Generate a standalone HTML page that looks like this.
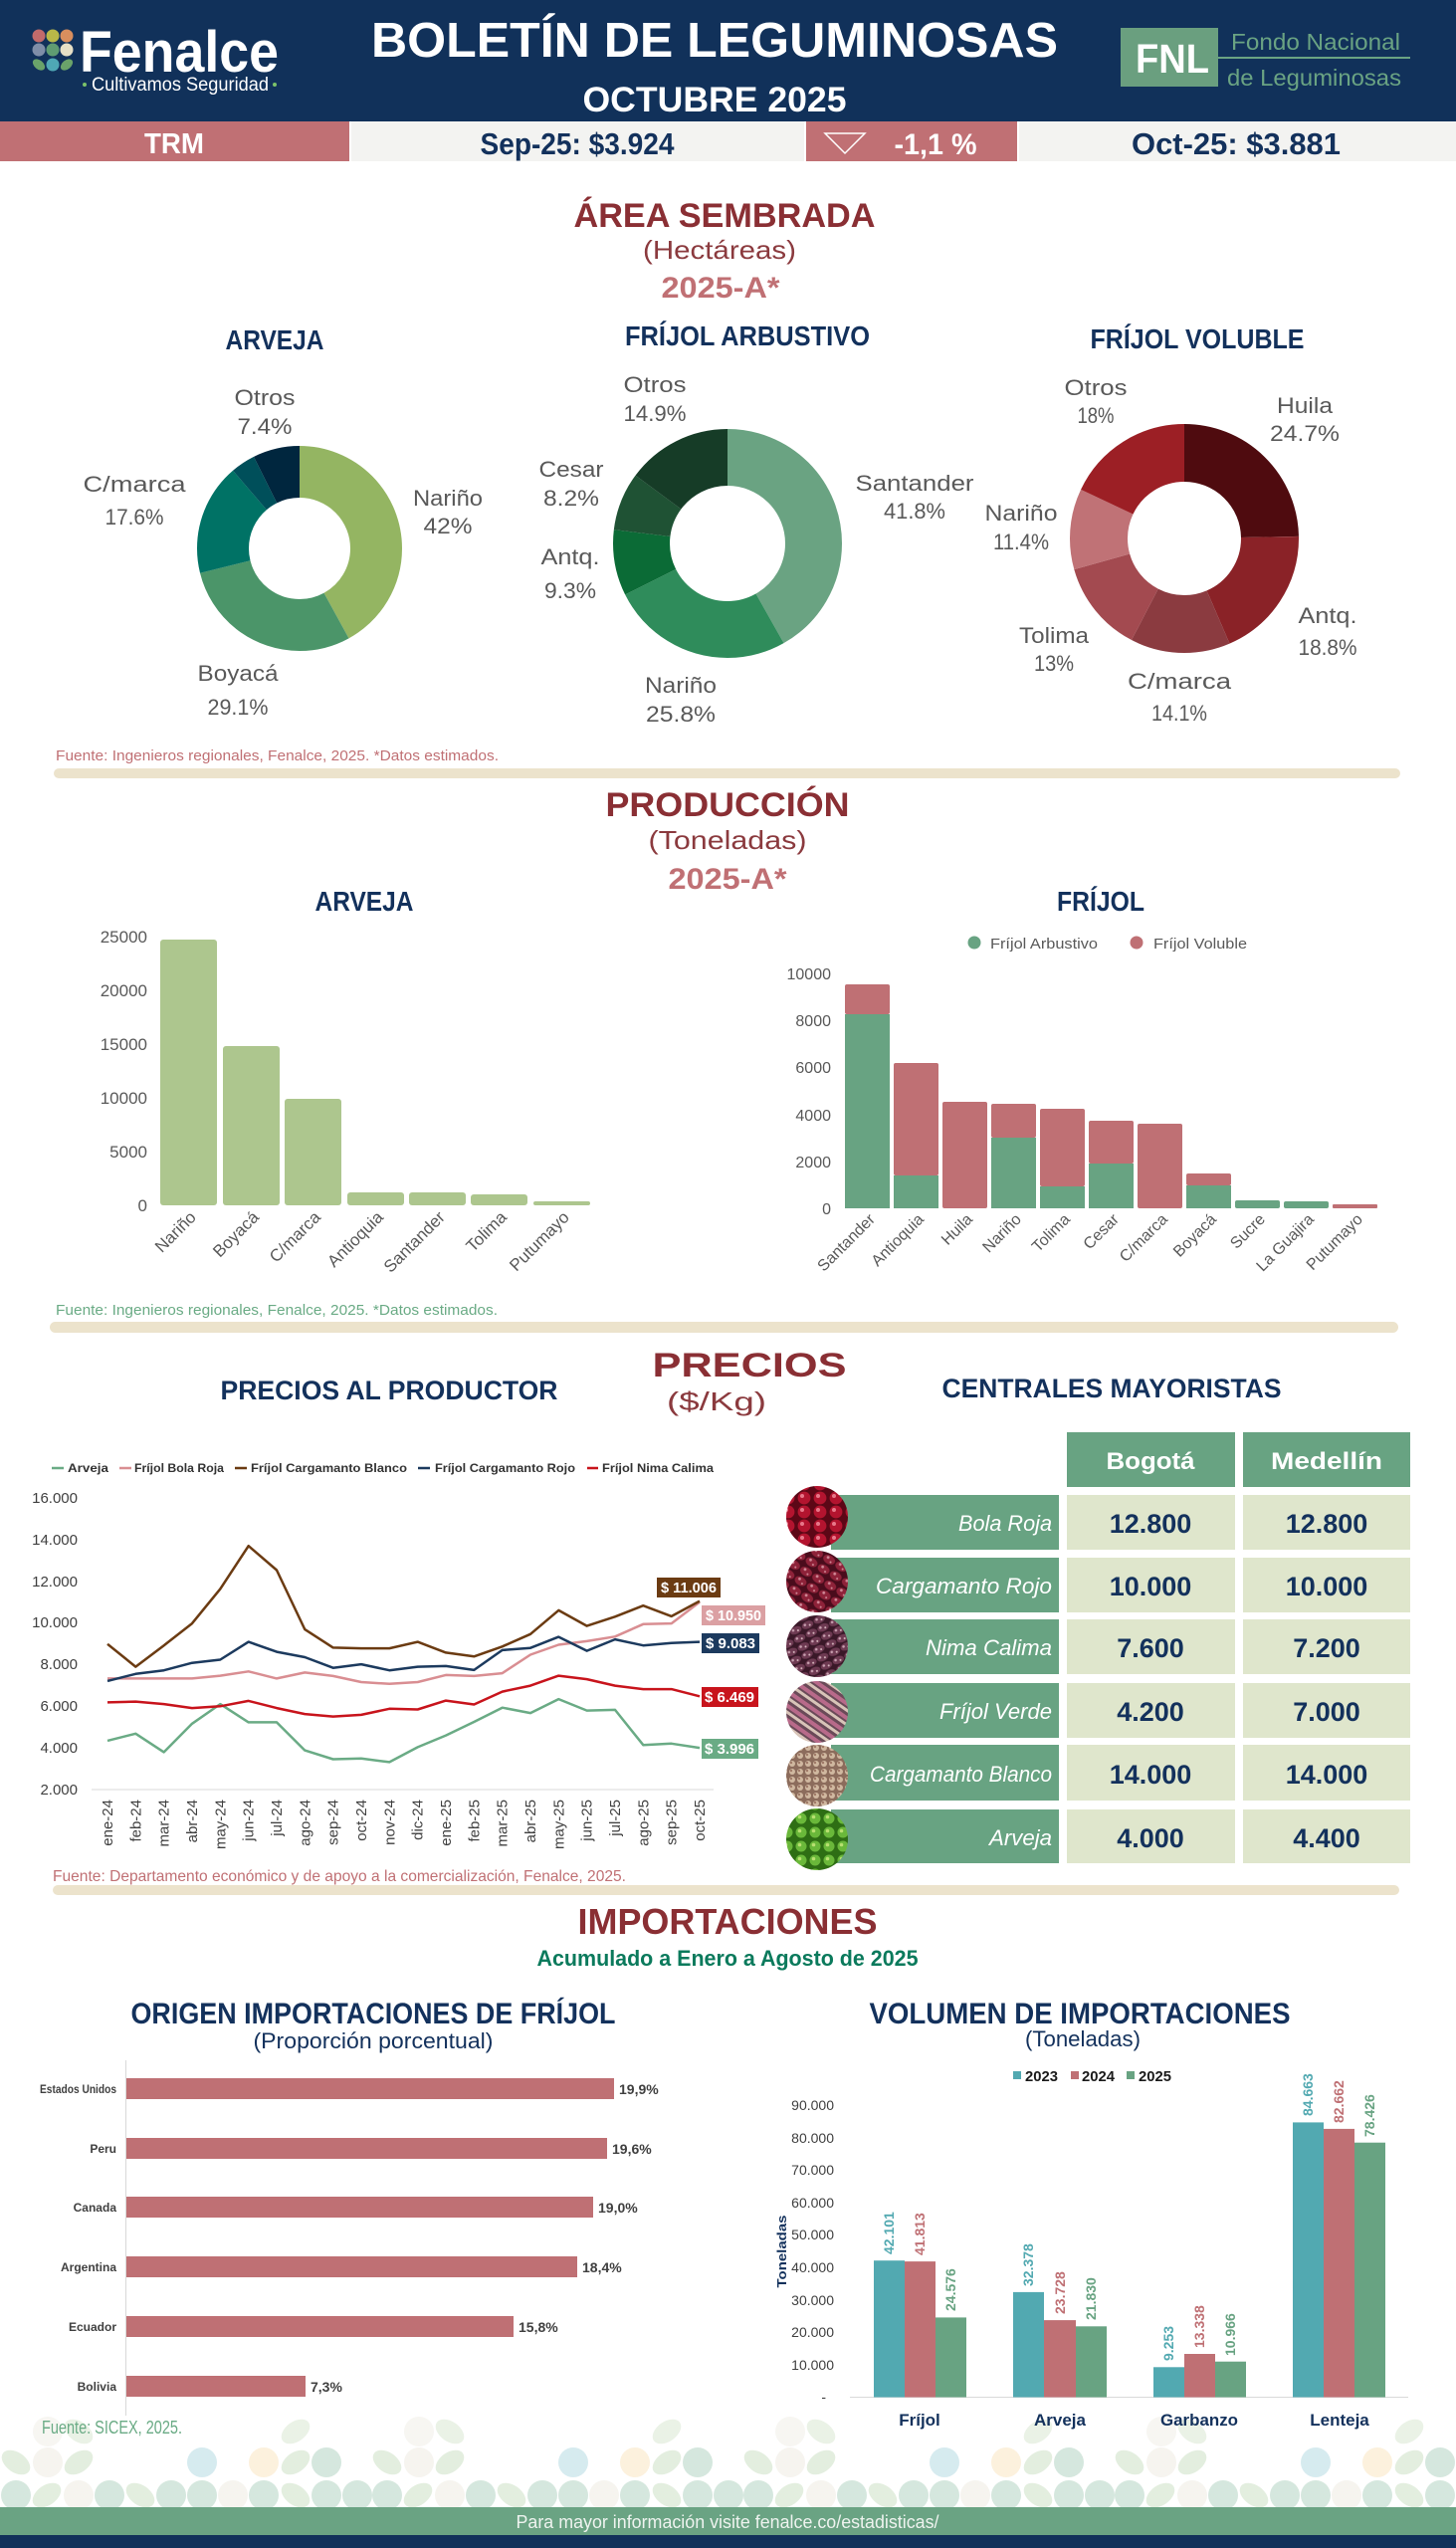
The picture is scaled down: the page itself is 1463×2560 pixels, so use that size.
<!DOCTYPE html>
<html><head><meta charset="utf-8"><style>
html,body{margin:0;padding:0;background:#fff;}
svg{display:block;}
text{font-family:"Liberation Sans",sans-serif;}
</style></head><body>
<svg width="1463" height="2560" viewBox="0 0 1463 2560" xmlns="http://www.w3.org/2000/svg">
<defs>
<pattern id="pBola" width="16" height="14" patternUnits="userSpaceOnUse"><rect width="16" height="14" fill="#5c0716"/><circle cx="8" cy="7" r="6.4" fill="#b3142f"/><circle cx="6" cy="5" r="2" fill="#e8788a"/></pattern>
<pattern id="pCRojo" width="14" height="11" patternUnits="userSpaceOnUse" patternTransform="rotate(30)"><rect width="14" height="11" fill="#4a0c1c"/><ellipse cx="7" cy="5.5" rx="6.3" ry="4.4" fill="#8e2239"/><circle cx="5" cy="4" r="1.4" fill="#d08a98"/><circle cx="9.5" cy="7" r="1" fill="#d08a98"/></pattern>
<pattern id="pNima" width="13" height="9" patternUnits="userSpaceOnUse" patternTransform="rotate(-25)"><rect width="13" height="9" fill="#3a1828"/><ellipse cx="6.5" cy="4.5" rx="6" ry="3.8" fill="#6e3a52"/><circle cx="4" cy="3.5" r="1.3" fill="#c8a0b0"/><circle cx="8.5" cy="5.5" r="1" fill="#d8b8c0"/></pattern>
<pattern id="pVerde" width="12" height="12" patternUnits="userSpaceOnUse" patternTransform="rotate(35)"><rect width="12" height="12" fill="#6a4a58"/><rect y="0" width="12" height="4" fill="#b86a8a"/><rect y="6" width="12" height="3" fill="#d8c4b8"/></pattern>
<pattern id="pBlanco" width="8" height="8" patternUnits="userSpaceOnUse"><rect width="8" height="8" fill="#8c6c5c"/><circle cx="4" cy="4" r="3" fill="#d0b8a0"/><circle cx="3" cy="3" r="1.2" fill="#a07a68"/></pattern>
<pattern id="pArveja" width="14" height="14" patternUnits="userSpaceOnUse"><rect width="14" height="14" fill="#2e6e14"/><circle cx="7" cy="7" r="5.5" fill="#6ab83a"/><circle cx="5.5" cy="5.5" r="1.8" fill="#b8e070"/></pattern>
</defs>

<!-- HEADER -->
<rect x="0" y="0" width="1463" height="122" fill="#11315a"/>
<g>
<circle cx="39" cy="36" r="6.5" fill="#c26b6b"/><circle cx="53" cy="36" r="6.5" fill="#b8b848"/><circle cx="67" cy="36" r="6.5" fill="#d98e5e"/>
<circle cx="39" cy="50" r="6.5" fill="#7f8ea8"/><circle cx="53" cy="50" r="6.5" fill="#5f9c72"/><circle cx="67" cy="50" r="6.5" fill="#e6dfc6"/>
<ellipse cx="39" cy="65" rx="7" ry="4.5" transform="rotate(40 39 65)" fill="#6aa36a"/><circle cx="53" cy="65" r="6.5" fill="#4fa8b5"/><ellipse cx="67" cy="65" rx="7" ry="4.5" transform="rotate(-40 67 65)" fill="#6aa36a"/>
</g>
<text x="80" y="72" font-size="58" font-weight="bold" fill="#fff" textLength="200" lengthAdjust="spacingAndGlyphs">Fenalce</text>
<circle cx="85" cy="85" r="2" fill="#7cc36a"/><circle cx="276" cy="85" r="2" fill="#7cc36a"/>
<text x="92" y="91" font-size="19" fill="#fff" textLength="178" lengthAdjust="spacingAndGlyphs">Cultivamos Seguridad</text>
<text x="718" y="57" font-size="49" font-weight="bold" fill="#fff" text-anchor="middle" textLength="690" lengthAdjust="spacingAndGlyphs">BOLETÍN DE LEGUMINOSAS</text>
<text x="718" y="112" font-size="35" font-weight="bold" fill="#fff" text-anchor="middle" textLength="265" lengthAdjust="spacingAndGlyphs">OCTUBRE  2025</text>
<rect x="1126" y="28" width="98" height="59" fill="#6a9f7f"/>
<text x="1178" y="73" font-size="41" font-weight="bold" fill="#fff" text-anchor="middle" textLength="74" lengthAdjust="spacingAndGlyphs">FNL</text>
<text x="1237" y="50" font-size="23" fill="#6aa383" textLength="170" lengthAdjust="spacingAndGlyphs">Fondo Nacional</text>
<rect x="1224" y="57" width="193" height="2" fill="#6aa383"/>
<text x="1233" y="86" font-size="23" fill="#6aa383" textLength="175" lengthAdjust="spacingAndGlyphs">de Leguminosas</text>

<!-- TRM ROW -->
<rect x="0" y="122" width="351" height="40" fill="#c07074"/>
<rect x="353" y="122" width="455" height="40" fill="#f3f3f1"/>
<rect x="810" y="122" width="212" height="40" fill="#c07074"/>
<rect x="1024" y="122" width="439" height="40" fill="#f3f3f1"/>
<text x="175" y="154" font-size="29" font-weight="bold" fill="#fff" text-anchor="middle" textLength="60" lengthAdjust="spacingAndGlyphs">TRM</text>
<text x="580" y="155" font-size="31" font-weight="bold" fill="#13315c" text-anchor="middle" textLength="195" lengthAdjust="spacingAndGlyphs">Sep-25: $3.924</text>
<path d="M829 134 L869 134 L849 154 Z" fill="none" stroke="#fff" stroke-width="1.5"/>
<text x="940" y="155" font-size="30" font-weight="bold" fill="#fff" text-anchor="middle" textLength="83" lengthAdjust="spacingAndGlyphs">-1,1 %</text>
<text x="1242" y="155" font-size="31" font-weight="bold" fill="#13315c" text-anchor="middle" textLength="210" lengthAdjust="spacingAndGlyphs">Oct-25: $3.881</text>

<!-- AREA SEMBRADA -->
<text x="728" y="228" font-size="34" font-weight="bold" fill="#8a2f34" text-anchor="middle" textLength="303" lengthAdjust="spacingAndGlyphs">ÁREA SEMBRADA</text>
<text x="723" y="260" font-size="26" fill="#8b3a3e" text-anchor="middle" textLength="154" lengthAdjust="spacingAndGlyphs">(Hectáreas)</text>
<text x="724" y="299" font-size="30" font-weight="bold" fill="#c07074" text-anchor="middle" textLength="119" lengthAdjust="spacingAndGlyphs">2025-A*</text>

<text x="276" y="351" font-size="28" font-weight="bold" fill="#13315c" text-anchor="middle" textLength="99" lengthAdjust="spacingAndGlyphs">ARVEJA</text>
<text x="751" y="347" font-size="28" font-weight="bold" fill="#13315c" text-anchor="middle" textLength="246" lengthAdjust="spacingAndGlyphs">FRÍJOL ARBUSTIVO</text>
<text x="1203" y="350" font-size="28" font-weight="bold" fill="#13315c" text-anchor="middle" textLength="215" lengthAdjust="spacingAndGlyphs">FRÍJOL VOLUBLE</text>

<!-- Arveja donut -->
<g transform="rotate(-90 301 551)" fill="none" stroke-width="52">
<circle cx="301" cy="551" r="77" stroke="#94b562" stroke-dasharray="203.2 483.81" stroke-dashoffset="0"/>
<circle cx="301" cy="551" r="77" stroke="#4b9569" stroke-dasharray="140.8 483.81" stroke-dashoffset="-203.2"/>
<circle cx="301" cy="551" r="77" stroke="#007265" stroke-dasharray="85.15 483.81" stroke-dashoffset="-344"/>
<circle cx="301" cy="551" r="77" stroke="#004f5a" stroke-dasharray="18.87 483.81" stroke-dashoffset="-429.14"/>
<circle cx="301" cy="551" r="77" stroke="#00263e" stroke-dasharray="35.8 483.81" stroke-dashoffset="-448.01"/>
</g>
<!-- Arbustivo donut -->
<g transform="rotate(-90 731 546)" fill="none" stroke-width="57">
<circle cx="731" cy="546" r="86.5" stroke="#6aa382" stroke-dasharray="227.18 543.5" stroke-dashoffset="0"/>
<circle cx="731" cy="546" r="86.5" stroke="#2f8c5b" stroke-dasharray="140.22 543.5" stroke-dashoffset="-227.18"/>
<circle cx="731" cy="546" r="86.5" stroke="#0b6b36" stroke-dasharray="50.55 543.5" stroke-dashoffset="-367.4"/>
<circle cx="731" cy="546" r="86.5" stroke="#1f5234" stroke-dasharray="44.57 543.5" stroke-dashoffset="-417.95"/>
<circle cx="731" cy="546" r="86.5" stroke="#163c27" stroke-dasharray="80.98 543.5" stroke-dashoffset="-462.52"/>
</g>
<!-- Voluble donut -->
<g transform="rotate(-90 1190 541)" fill="none" stroke-width="58">
<circle cx="1190" cy="541" r="86" stroke="#4f0b0f" stroke-dasharray="133.47 540.35" stroke-dashoffset="0"/>
<circle cx="1190" cy="541" r="86" stroke="#8a2227" stroke-dasharray="101.59 540.35" stroke-dashoffset="-133.47"/>
<circle cx="1190" cy="541" r="86" stroke="#8b3b40" stroke-dasharray="76.19 540.35" stroke-dashoffset="-235.06"/>
<circle cx="1190" cy="541" r="86" stroke="#a34a50" stroke-dasharray="70.25 540.35" stroke-dashoffset="-311.25"/>
<circle cx="1190" cy="541" r="86" stroke="#c07276" stroke-dasharray="61.6 540.35" stroke-dashoffset="-381.5"/>
<circle cx="1190" cy="541" r="86" stroke="#9c1f25" stroke-dasharray="97.26 540.35" stroke-dashoffset="-443.1"/>
</g>

<g font-size="22" fill="#595959" text-anchor="middle">
<text x="266" y="407" textLength="61" lengthAdjust="spacingAndGlyphs">Otros</text>
<text x="266" y="436" textLength="55" lengthAdjust="spacingAndGlyphs">7.4%</text>
<text x="135" y="494" textLength="103" lengthAdjust="spacingAndGlyphs">C/marca</text>
<text x="135" y="527" textLength="59" lengthAdjust="spacingAndGlyphs">17.6%</text>
<text x="450" y="508" textLength="70" lengthAdjust="spacingAndGlyphs">Nariño</text>
<text x="450" y="536" textLength="49" lengthAdjust="spacingAndGlyphs">42%</text>
<text x="239" y="684" textLength="81" lengthAdjust="spacingAndGlyphs">Boyacá</text>
<text x="239" y="718" textLength="61" lengthAdjust="spacingAndGlyphs">29.1%</text>

<text x="658" y="394" textLength="63" lengthAdjust="spacingAndGlyphs">Otros</text>
<text x="658" y="423" textLength="63" lengthAdjust="spacingAndGlyphs">14.9%</text>
<text x="574" y="479" textLength="65" lengthAdjust="spacingAndGlyphs">Cesar</text>
<text x="574" y="508" textLength="56" lengthAdjust="spacingAndGlyphs">8.2%</text>
<text x="573" y="567" textLength="59" lengthAdjust="spacingAndGlyphs">Antq.</text>
<text x="573" y="601" textLength="52" lengthAdjust="spacingAndGlyphs">9.3%</text>
<text x="919" y="493" textLength="119" lengthAdjust="spacingAndGlyphs">Santander</text>
<text x="919" y="521" textLength="62" lengthAdjust="spacingAndGlyphs">41.8%</text>
<text x="684" y="696" textLength="72" lengthAdjust="spacingAndGlyphs">Nariño</text>
<text x="684" y="725" textLength="70" lengthAdjust="spacingAndGlyphs">25.8%</text>

<text x="1101" y="397" textLength="63" lengthAdjust="spacingAndGlyphs">Otros</text>
<text x="1101" y="425" textLength="37" lengthAdjust="spacingAndGlyphs">18%</text>
<text x="1311" y="415" textLength="56" lengthAdjust="spacingAndGlyphs">Huila</text>
<text x="1311" y="443" textLength="70" lengthAdjust="spacingAndGlyphs">24.7%</text>
<text x="1026" y="523" textLength="73" lengthAdjust="spacingAndGlyphs">Nariño</text>
<text x="1026" y="552" textLength="56" lengthAdjust="spacingAndGlyphs">11.4%</text>
<text x="1334" y="626" textLength="59" lengthAdjust="spacingAndGlyphs">Antq.</text>
<text x="1334" y="658" textLength="59" lengthAdjust="spacingAndGlyphs">18.8%</text>
<text x="1059" y="646" textLength="70" lengthAdjust="spacingAndGlyphs">Tolima</text>
<text x="1059" y="674" textLength="40" lengthAdjust="spacingAndGlyphs">13%</text>
<text x="1185" y="692" textLength="104" lengthAdjust="spacingAndGlyphs">C/marca</text>
<text x="1185" y="724" textLength="56" lengthAdjust="spacingAndGlyphs">14.1%</text>
</g>

<text x="56" y="764" font-size="15" fill="#c07074" textLength="445" lengthAdjust="spacingAndGlyphs">Fuente: Ingenieros regionales, Fenalce, 2025. *Datos estimados.</text>
<rect x="54" y="772" width="1353" height="10" rx="5" fill="#ece3cc"/>

<!-- PRODUCCION -->
<text x="731" y="820" font-size="34" font-weight="bold" fill="#8a2f34" text-anchor="middle" textLength="245" lengthAdjust="spacingAndGlyphs">PRODUCCIÓN</text>
<text x="731" y="853" font-size="26" fill="#8b3a3e" text-anchor="middle" textLength="159" lengthAdjust="spacingAndGlyphs">(Toneladas)</text>
<text x="731" y="893" font-size="30" font-weight="bold" fill="#c07074" text-anchor="middle" textLength="119" lengthAdjust="spacingAndGlyphs">2025-A*</text>
<text x="366" y="915" font-size="28" font-weight="bold" fill="#13315c" text-anchor="middle" textLength="99" lengthAdjust="spacingAndGlyphs">ARVEJA</text>
<text x="1106" y="915" font-size="28" font-weight="bold" fill="#13315c" text-anchor="middle" textLength="88" lengthAdjust="spacingAndGlyphs">FRÍJOL</text>

<!-- Arveja bars -->
<g font-size="17" fill="#595959" text-anchor="end">
<text x="148" y="1217">0</text>
<text x="148" y="1163">5000</text>
<text x="148" y="1109">10000</text>
<text x="148" y="1055">15000</text>
<text x="148" y="1001">20000</text>
<text x="148" y="947">25000</text>
</g>
<g fill="#adc68e">
<rect x="161" y="944" width="57" height="267" rx="3"/>
<rect x="224" y="1051" width="57" height="160" rx="3"/>
<rect x="286" y="1104" width="57" height="107" rx="3"/>
<rect x="349" y="1198" width="57" height="13" rx="3"/>
<rect x="411" y="1198" width="57" height="13" rx="3"/>
<rect x="473" y="1200" width="57" height="11" rx="3"/>
<rect x="536" y="1207" width="57" height="4" rx="2"/>
</g>
<g font-size="17" fill="#595959" text-anchor="end">
<text transform="translate(198,1224) rotate(-45)">Nariño</text>
<text transform="translate(261,1224) rotate(-45)">Boyacá</text>
<text transform="translate(323,1224) rotate(-45)">C/marca</text>
<text transform="translate(386,1224) rotate(-45)">Antioquia</text>
<text transform="translate(448,1224) rotate(-45)">Santander</text>
<text transform="translate(510,1224) rotate(-45)">Tolima</text>
<text transform="translate(573,1224) rotate(-45)">Putumayo</text>
</g>

<!-- Frijol stacked bars -->
<circle cx="979" cy="947" r="6.5" fill="#68a382"/>
<text x="995" y="953" font-size="15" fill="#595959" textLength="108" lengthAdjust="spacingAndGlyphs">Fríjol Arbustivo</text>
<circle cx="1142" cy="947" r="6.5" fill="#bf7074"/>
<text x="1159" y="953" font-size="15" fill="#595959" textLength="94" lengthAdjust="spacingAndGlyphs">Fríjol Voluble</text>
<g font-size="16" fill="#595959" text-anchor="end">
<text x="835" y="1220">0</text>
<text x="835" y="1173">2000</text>
<text x="835" y="1126">4000</text>
<text x="835" y="1078">6000</text>
<text x="835" y="1031">8000</text>
<text x="835" y="984">10000</text>
</g>
<g fill="#bf7074">
<rect x="849" y="989" width="45" height="30" rx="2"/>
<rect x="898" y="1068" width="45" height="113" rx="2"/>
<rect x="947" y="1107" width="45" height="107" rx="2"/>
<rect x="996" y="1109" width="45" height="34" rx="2"/>
<rect x="1045" y="1114" width="45" height="78" rx="2"/>
<rect x="1094" y="1126" width="45" height="43" rx="2"/>
<rect x="1143" y="1129" width="45" height="85" rx="2"/>
<rect x="1192" y="1179" width="45" height="12" rx="2"/>
<rect x="1339" y="1210" width="45" height="4" rx="1"/>
</g>
<g fill="#68a382">
<rect x="849" y="1019" width="45" height="195"/>
<rect x="898" y="1181" width="45" height="33"/>
<rect x="996" y="1143" width="45" height="71"/>
<rect x="1045" y="1192" width="45" height="22"/>
<rect x="1094" y="1169" width="45" height="45"/>
<rect x="1192" y="1191" width="45" height="23"/>
<rect x="1241" y="1206" width="45" height="8" rx="2"/>
<rect x="1290" y="1207" width="45" height="7" rx="2"/>
</g>
<g font-size="16" fill="#595959" text-anchor="end">
<text transform="translate(880,1226) rotate(-45)">Santander</text>
<text transform="translate(929,1226) rotate(-45)">Antioquia</text>
<text transform="translate(978,1226) rotate(-45)">Huila</text>
<text transform="translate(1027,1226) rotate(-45)">Nariño</text>
<text transform="translate(1076,1226) rotate(-45)">Tolima</text>
<text transform="translate(1125,1226) rotate(-45)">Cesar</text>
<text transform="translate(1174,1226) rotate(-45)">C/marca</text>
<text transform="translate(1223,1226) rotate(-45)">Boyacá</text>
<text transform="translate(1272,1226) rotate(-45)">Sucre</text>
<text transform="translate(1321,1226) rotate(-45)">La Guajira</text>
<text transform="translate(1370,1226) rotate(-45)">Putumayo</text>
</g>

<text x="56" y="1321" font-size="15" fill="#6aab85" textLength="444" lengthAdjust="spacingAndGlyphs">Fuente: Ingenieros regionales, Fenalce, 2025. *Datos estimados.</text>
<rect x="50" y="1328" width="1355" height="11" rx="5.5" fill="#ece3cc"/>

<!-- PRECIOS -->
<text x="753" y="1383" font-size="34" font-weight="bold" fill="#8a2f34" text-anchor="middle" textLength="195" lengthAdjust="spacingAndGlyphs">PRECIOS</text>
<text x="720" y="1417" font-size="26" fill="#8b3a3e" text-anchor="middle" textLength="100" lengthAdjust="spacingAndGlyphs">($/Kg)</text>
<text x="391" y="1406" font-size="27" font-weight="bold" fill="#13315c" text-anchor="middle" textLength="339" lengthAdjust="spacingAndGlyphs">PRECIOS AL PRODUCTOR</text>
<text x="1117" y="1404" font-size="27" font-weight="bold" fill="#13315c" text-anchor="middle" textLength="341" lengthAdjust="spacingAndGlyphs">CENTRALES MAYORISTAS</text>

<!-- legend -->
<g stroke-width="2.5">
<line x1="52" y1="1475" x2="64" y2="1475" stroke="#6aab85"/>
<line x1="120" y1="1475" x2="132" y2="1475" stroke="#d98e92"/>
<line x1="236" y1="1475" x2="248" y2="1475" stroke="#6b3b12"/>
<line x1="420" y1="1475" x2="432" y2="1475" stroke="#1c3a5e"/>
<line x1="590" y1="1475" x2="601" y2="1475" stroke="#c8141c"/>
</g>
<g font-size="12" font-weight="bold" fill="#333">
<text x="68" y="1479" textLength="41" lengthAdjust="spacingAndGlyphs">Arveja</text>
<text x="135" y="1479" textLength="90" lengthAdjust="spacingAndGlyphs">Fríjol Bola Roja</text>
<text x="252" y="1479" textLength="157" lengthAdjust="spacingAndGlyphs">Fríjol Cargamanto Blanco</text>
<text x="437" y="1479" textLength="141" lengthAdjust="spacingAndGlyphs">Fríjol Cargamanto Rojo</text>
<text x="605" y="1479" textLength="112" lengthAdjust="spacingAndGlyphs">Fríjol Nima Calima</text>
</g>
<g font-size="15" fill="#404040" text-anchor="end">
<text x="78" y="1510">16.000</text>
<text x="78" y="1552">14.000</text>
<text x="78" y="1594">12.000</text>
<text x="78" y="1635">10.000</text>
<text x="78" y="1677">8.000</text>
<text x="78" y="1719">6.000</text>
<text x="78" y="1761">4.000</text>
<text x="78" y="1803">2.000</text>
</g>
<line x1="92" y1="1798" x2="717" y2="1798" stroke="#d9d9d9" stroke-width="1"/>
<g fill="none" stroke-width="2.5" stroke-linejoin="round">
<polyline stroke="#6aab85" points="108,1748.9 136.3,1741.8 164.7,1760.4 193,1731.8 221.3,1712.1 249.7,1730.4 278,1730.4 306.3,1758.6 334.7,1767.5 363,1766.8 391.3,1770.4 419.7,1755.4 448,1743.6 476.3,1730 504.7,1715.7 533,1721.1 561.3,1707.1 589.7,1718.6 618,1717.9 646.3,1753.2 674.7,1751.8 703,1756.1"/>
<polyline stroke="#c8141c" points="108,1710.4 136.3,1709.6 164.7,1712.1 193,1716.1 221.3,1714.3 249.7,1708.9 278,1716.1 306.3,1722.1 334.7,1724.6 363,1722.9 391.3,1716.8 419.7,1717.5 448,1708.6 476.3,1712.5 504.7,1699.6 533,1693.6 561.3,1683.6 589.7,1687.1 618,1693.6 646.3,1697.1 674.7,1697.1 703,1704.3"/>
<polyline stroke="#d98e92" points="108,1686.4 136.3,1686.4 164.7,1686.4 193,1686.4 221.3,1683.6 249.7,1679.3 278,1686.4 306.3,1680.4 334.7,1683.9 363,1690 391.3,1691.8 419.7,1690 448,1682.9 476.3,1683.9 504.7,1681.1 533,1662.5 561.3,1652.5 589.7,1648.9 618,1644.3 646.3,1631.8 674.7,1631.1 703,1609.6"/>
<polyline stroke="#1c3a5e" points="108,1688.9 136.3,1681.8 164.7,1678.2 193,1670.7 221.3,1667.5 249.7,1649.6 278,1659.6 306.3,1665 334.7,1675.7 363,1672.1 391.3,1678.2 419.7,1674.6 448,1673.9 476.3,1677.9 504.7,1657.9 533,1655.7 561.3,1644.6 589.7,1658.6 618,1647.1 646.3,1653.2 674.7,1650.7 703,1649.6"/>
<polyline stroke="#6b3b12" points="108,1651.8 136.3,1674.6 164.7,1653.2 193,1631.1 221.3,1596.4 249.7,1553.2 278,1577.5 306.3,1637.1 334.7,1655.4 363,1656.1 391.3,1656.1 419.7,1649.6 448,1660.4 476.3,1664.3 504.7,1654.3 533,1641.8 561.3,1617.9 589.7,1633.6 618,1624.3 646.3,1613.2 674.7,1623.9 703,1608.6"/>
</g>
<rect x="660" y="1585" width="64" height="20" fill="#6b3b12"/>
<text x="692" y="1600" font-size="15" font-weight="bold" fill="#fff" text-anchor="middle" textLength="56" lengthAdjust="spacingAndGlyphs">$ 11.006</text>
<rect x="705" y="1613" width="64" height="20" fill="#dba0a3"/>
<text x="737" y="1628" font-size="15" font-weight="bold" fill="#fff" text-anchor="middle" textLength="56" lengthAdjust="spacingAndGlyphs">$ 10.950</text>
<rect x="705" y="1641" width="58" height="20" fill="#1c3a5e"/>
<text x="734" y="1656" font-size="15" font-weight="bold" fill="#fff" text-anchor="middle" textLength="50" lengthAdjust="spacingAndGlyphs">$ 9.083</text>
<rect x="705" y="1695" width="57" height="20" fill="#c8141c"/>
<text x="733" y="1710" font-size="15" font-weight="bold" fill="#fff" text-anchor="middle" textLength="50" lengthAdjust="spacingAndGlyphs">$ 6.469</text>
<rect x="705" y="1747" width="57" height="20" fill="#6aab85"/>
<text x="733" y="1762" font-size="15" font-weight="bold" fill="#fff" text-anchor="middle" textLength="50" lengthAdjust="spacingAndGlyphs">$ 3.996</text>

<g font-size="15" fill="#404040" text-anchor="end">
<text transform="translate(113,1808) rotate(-90)">ene-24</text>
<text transform="translate(141.3,1808) rotate(-90)">feb-24</text>
<text transform="translate(169.7,1808) rotate(-90)">mar-24</text>
<text transform="translate(198,1808) rotate(-90)">abr-24</text>
<text transform="translate(226.3,1808) rotate(-90)">may-24</text>
<text transform="translate(254.7,1808) rotate(-90)">jun-24</text>
<text transform="translate(283,1808) rotate(-90)">jul-24</text>
<text transform="translate(311.3,1808) rotate(-90)">ago-24</text>
<text transform="translate(339.7,1808) rotate(-90)">sep-24</text>
<text transform="translate(368,1808) rotate(-90)">oct-24</text>
<text transform="translate(396.3,1808) rotate(-90)">nov-24</text>
<text transform="translate(424.7,1808) rotate(-90)">dic-24</text>
<text transform="translate(453,1808) rotate(-90)">ene-25</text>
<text transform="translate(481.3,1808) rotate(-90)">feb-25</text>
<text transform="translate(509.7,1808) rotate(-90)">mar-25</text>
<text transform="translate(538,1808) rotate(-90)">abr-25</text>
<text transform="translate(566.3,1808) rotate(-90)">may-25</text>
<text transform="translate(594.7,1808) rotate(-90)">jun-25</text>
<text transform="translate(623,1808) rotate(-90)">jul-25</text>
<text transform="translate(651.3,1808) rotate(-90)">ago-25</text>
<text transform="translate(679.7,1808) rotate(-90)">sep-25</text>
<text transform="translate(708,1808) rotate(-90)">oct-25</text>
</g>

<!-- Centrales table -->
<rect x="1072" y="1439" width="169" height="55" fill="#68a382"/>
<rect x="1249" y="1439" width="168" height="55" fill="#68a382"/>
<text x="1156" y="1476" font-size="24" font-weight="bold" fill="#fff" text-anchor="middle" textLength="89" lengthAdjust="spacingAndGlyphs">Bogotá</text>
<text x="1333" y="1476" font-size="24" font-weight="bold" fill="#fff" text-anchor="middle" textLength="112" lengthAdjust="spacingAndGlyphs">Medellín</text>

<g fill="#68a382">
<rect x="835" y="1502" width="229" height="55"/>
<rect x="835" y="1565" width="229" height="55"/>
<rect x="835" y="1627" width="229" height="55"/>
<rect x="835" y="1691" width="229" height="55"/>
<rect x="835" y="1753" width="229" height="56"/>
<rect x="835" y="1818" width="229" height="54"/>
</g>
<g fill="#dfe6cc">
<rect x="1072" y="1502" width="169" height="55"/><rect x="1249" y="1502" width="168" height="55"/>
<rect x="1072" y="1565" width="169" height="55"/><rect x="1249" y="1565" width="168" height="55"/>
<rect x="1072" y="1627" width="169" height="55"/><rect x="1249" y="1627" width="168" height="55"/>
<rect x="1072" y="1691" width="169" height="55"/><rect x="1249" y="1691" width="168" height="55"/>
<rect x="1072" y="1753" width="169" height="56"/><rect x="1249" y="1753" width="168" height="56"/>
<rect x="1072" y="1818" width="169" height="54"/><rect x="1249" y="1818" width="168" height="54"/>
</g>
<circle cx="821" cy="1524" r="31" fill="url(#pBola)"/>
<circle cx="821" cy="1589" r="31" fill="url(#pCRojo)"/>
<circle cx="821" cy="1654" r="31" fill="url(#pNima)"/>
<circle cx="821" cy="1720" r="31" fill="url(#pVerde)"/>
<circle cx="821" cy="1784" r="31" fill="url(#pBlanco)"/>
<circle cx="821" cy="1848" r="31" fill="url(#pArveja)"/>
<g font-size="22" font-style="italic" fill="#fff" text-anchor="end">
<text x="1057" y="1538" textLength="94" lengthAdjust="spacingAndGlyphs">Bola Roja</text>
<text x="1057" y="1601" textLength="177" lengthAdjust="spacingAndGlyphs">Cargamanto Rojo</text>
<text x="1057" y="1663" textLength="127" lengthAdjust="spacingAndGlyphs">Nima Calima</text>
<text x="1057" y="1727" textLength="113" lengthAdjust="spacingAndGlyphs">Fríjol Verde</text>
<text x="1057" y="1790" textLength="183" lengthAdjust="spacingAndGlyphs">Cargamanto Blanco</text>
<text x="1057" y="1854" textLength="63" lengthAdjust="spacingAndGlyphs">Arveja</text>
</g>
<g font-size="27" font-weight="bold" fill="#13315c" text-anchor="middle">
<text x="1156" y="1540">12.800</text><text x="1333" y="1540">12.800</text>
<text x="1156" y="1603">10.000</text><text x="1333" y="1603">10.000</text>
<text x="1156" y="1665">7.600</text><text x="1333" y="1665">7.200</text>
<text x="1156" y="1729">4.200</text><text x="1333" y="1729">7.000</text>
<text x="1156" y="1792">14.000</text><text x="1333" y="1792">14.000</text>
<text x="1156" y="1856">4.000</text><text x="1333" y="1856">4.400</text>
</g>

<text x="53" y="1890" font-size="16" fill="#c07074" textLength="576" lengthAdjust="spacingAndGlyphs">Fuente: Departamento económico y de apoyo a la comercialización,  Fenalce, 2025.</text>
<rect x="53" y="1894" width="1353" height="10" rx="5" fill="#ece3cc"/>

<!-- IMPORTACIONES -->
<text x="731" y="1943" font-size="36" font-weight="bold" fill="#8a2f34" text-anchor="middle" textLength="301" lengthAdjust="spacingAndGlyphs">IMPORTACIONES</text>
<text x="731" y="1975" font-size="22" font-weight="bold" fill="#0b7a5c" text-anchor="middle" textLength="383" lengthAdjust="spacingAndGlyphs">Acumulado a Enero a Agosto de 2025</text>
<text x="375" y="2033" font-size="30" font-weight="bold" fill="#13315c" text-anchor="middle" textLength="487" lengthAdjust="spacingAndGlyphs">ORIGEN IMPORTACIONES DE FRÍJOL</text>
<text x="375" y="2058" font-size="22" fill="#13315c" text-anchor="middle" textLength="241" lengthAdjust="spacingAndGlyphs">(Proporción porcentual)</text>
<text x="1085" y="2033" font-size="30" font-weight="bold" fill="#13315c" text-anchor="middle" textLength="423" lengthAdjust="spacingAndGlyphs">VOLUMEN DE IMPORTACIONES</text>
<text x="1088" y="2056" font-size="22" fill="#13315c" text-anchor="middle" textLength="116" lengthAdjust="spacingAndGlyphs">(Toneladas)</text>

<!-- decorative footer pattern -->
<g id="deco">
<g transform="translate(0,0)">
<circle cx="16" cy="2507" r="15" fill="#d5e7de"/><ellipse cx="47" cy="2507" rx="16" ry="10" transform="rotate(-35 47 2507)" fill="#e3eedf"/><circle cx="79" cy="2507" r="15" fill="#f6f4ef"/><circle cx="110" cy="2507" r="15" fill="#d5e7de"/><ellipse cx="141" cy="2507" rx="16" ry="10" transform="rotate(35 141 2507)" fill="#e3eedf"/><circle cx="172" cy="2507" r="15" fill="#d5e7de"/><circle cx="203" cy="2507" r="15" fill="#d5e7de"/><circle cx="234" cy="2507" r="15" fill="#f6f4ef"/><circle cx="265" cy="2507" r="15" fill="#d5e7de"/><ellipse cx="297" cy="2507" rx="16" ry="10" transform="rotate(35 297 2507)" fill="#e3eedf"/><circle cx="328" cy="2507" r="15" fill="#d5e7de"/><circle cx="359" cy="2507" r="15" fill="#d5e7de"/>
<ellipse cx="16" cy="2474" rx="16" ry="10" transform="rotate(35 16 2474)" fill="#e3eedf"/><circle cx="48" cy="2474" r="15" fill="#f6f4ef"/><ellipse cx="79" cy="2474" rx="16" ry="10" transform="rotate(-35 79 2474)" fill="#e3eedf"/><circle cx="203" cy="2474" r="15" fill="#d6ebef"/><circle cx="265" cy="2474" r="15" fill="#fcf1dd"/><ellipse cx="297" cy="2474" rx="16" ry="10" transform="rotate(-35 297 2474)" fill="#e3eedf"/><circle cx="328" cy="2474" r="15" fill="#d5e7de"/>
<circle cx="48" cy="2443" r="15" fill="#f7f6f2"/><ellipse cx="79" cy="2443" rx="16" ry="10" transform="rotate(35 79 2443)" fill="#eaf2e6"/><ellipse cx="297" cy="2443" rx="16" ry="10" transform="rotate(-35 297 2443)" fill="#eaf2e6"/>
</g>
</g>
<use href="#deco" transform="translate(373,0)"/>
<use href="#deco" transform="translate(746,0)"/>
<use href="#deco" transform="translate(1119,0)"/>

<!-- Horizontal bars -->
<line x1="126.5" y1="2070" x2="126.5" y2="2427" stroke="#d9d9d9" stroke-width="1"/>
<g fill="#bf7074">
<rect x="127" y="2088" width="490" height="21"/>
<rect x="127" y="2148" width="483" height="21"/>
<rect x="127" y="2207" width="469" height="21"/>
<rect x="127" y="2267" width="453" height="21"/>
<rect x="127" y="2327" width="389" height="21"/>
<rect x="127" y="2387" width="180" height="21"/>
</g>
<g font-size="12" font-weight="bold" fill="#404040" text-anchor="end">
<text x="117" y="2103" textLength="77" lengthAdjust="spacingAndGlyphs">Estados Unidos</text>
<text x="117" y="2163">Peru</text>
<text x="117" y="2222">Canada</text>
<text x="117" y="2282">Argentina</text>
<text x="117" y="2342">Ecuador</text>
<text x="117" y="2402">Bolivia</text>
</g>
<g font-size="14" font-weight="bold" fill="#404040">
<text x="622" y="2104">19,9%</text>
<text x="615" y="2164">19,6%</text>
<text x="601" y="2223">19,0%</text>
<text x="585" y="2283">18,4%</text>
<text x="521" y="2343">15,8%</text>
<text x="312" y="2403">7,3%</text>
</g>
<text x="42" y="2445" font-size="18" fill="#6aab85" textLength="141" lengthAdjust="spacingAndGlyphs">Fuente: SICEX, 2025.</text>

<!-- Volume chart -->
<rect x="1018" y="2081" width="8" height="8" fill="#52a9b1"/>
<text x="1030" y="2091" font-size="15" font-weight="bold" fill="#1a1a1a" textLength="33" lengthAdjust="spacingAndGlyphs">2023</text>
<rect x="1076" y="2081" width="8" height="8" fill="#bf7074"/>
<text x="1087" y="2091" font-size="15" font-weight="bold" fill="#1a1a1a" textLength="33" lengthAdjust="spacingAndGlyphs">2024</text>
<rect x="1132" y="2081" width="8" height="8" fill="#68a382"/>
<text x="1144" y="2091" font-size="15" font-weight="bold" fill="#1a1a1a" textLength="33" lengthAdjust="spacingAndGlyphs">2025</text>
<g font-size="14" fill="#404040" text-anchor="end">
<text x="838" y="2120">90.000</text>
<text x="838" y="2153">80.000</text>
<text x="838" y="2185">70.000</text>
<text x="838" y="2218">60.000</text>
<text x="838" y="2250">50.000</text>
<text x="838" y="2283">40.000</text>
<text x="838" y="2316">30.000</text>
<text x="838" y="2348">20.000</text>
<text x="838" y="2381">10.000</text>
<text x="830" y="2413">-</text>
</g>
<text transform="translate(790,2262) rotate(-90)" font-size="13" font-weight="bold" fill="#13315c" text-anchor="middle" textLength="73" lengthAdjust="spacingAndGlyphs">Toneladas</text>
<line x1="854" y1="2408.5" x2="1415" y2="2408.5" stroke="#d9d9d9" stroke-width="1"/>
<g fill="#52a9b1">
<rect x="878" y="2271.2" width="31" height="137.3"/>
<rect x="1018" y="2302.9" width="31" height="105.6"/>
<rect x="1159" y="2378.3" width="31" height="30.2"/>
<rect x="1299" y="2132.4" width="31" height="276.1"/>
</g>
<g fill="#bf7074">
<rect x="909" y="2272.1" width="31" height="136.4"/>
<rect x="1049" y="2331.1" width="32" height="77.4"/>
<rect x="1190" y="2365" width="31" height="43.5"/>
<rect x="1330" y="2138.9" width="31" height="269.6"/>
</g>
<g fill="#68a382">
<rect x="940" y="2328.4" width="31" height="80.1"/>
<rect x="1081" y="2337.3" width="31" height="71.2"/>
<rect x="1221" y="2372.7" width="31" height="35.8"/>
<rect x="1361" y="2152.7" width="31" height="255.8"/>
</g>
<g font-size="14" font-weight="bold">
<text transform="translate(898,2265) rotate(-90)" fill="#52a9b1">42.101</text>
<text transform="translate(929,2266) rotate(-90)" fill="#bf7074">41.813</text>
<text transform="translate(960,2322) rotate(-90)" fill="#68a382">24.576</text>
<text transform="translate(1038,2297) rotate(-90)" fill="#52a9b1">32.378</text>
<text transform="translate(1070,2325) rotate(-90)" fill="#bf7074">23.728</text>
<text transform="translate(1101,2331) rotate(-90)" fill="#68a382">21.830</text>
<text transform="translate(1179,2372) rotate(-90)" fill="#52a9b1">9.253</text>
<text transform="translate(1210,2359) rotate(-90)" fill="#bf7074">13.338</text>
<text transform="translate(1241,2367) rotate(-90)" fill="#68a382">10.966</text>
<text transform="translate(1319,2126) rotate(-90)" fill="#52a9b1">84.663</text>
<text transform="translate(1350,2133) rotate(-90)" fill="#bf7074">82.662</text>
<text transform="translate(1381,2147) rotate(-90)" fill="#68a382">78.426</text>
</g>
<g font-size="17" font-weight="bold" fill="#13315c" text-anchor="middle">
<text x="924" y="2437">Fríjol</text>
<text x="1065" y="2437">Arveja</text>
<text x="1205" y="2437" textLength="78" lengthAdjust="spacingAndGlyphs">Garbanzo</text>
<text x="1346" y="2437">Lenteja</text>
</g>

<!-- FOOTER -->
<rect x="0" y="2519" width="1463" height="28" fill="#6aa383"/>
<rect x="0" y="2547" width="1463" height="13" fill="#11315a"/>
<text x="731" y="2540" font-size="18" fill="#eef3ef" text-anchor="middle" textLength="425" lengthAdjust="spacingAndGlyphs">Para mayor información visite fenalce.co/estadisticas/</text>
</svg>
</body></html>
